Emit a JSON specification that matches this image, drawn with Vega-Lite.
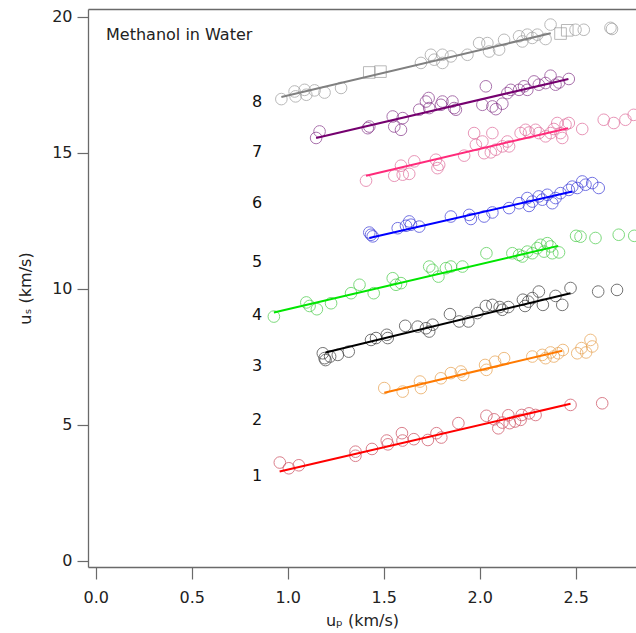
{
  "$schema": "https://vega.github.io/schema/vega-lite/v6.json",
  "width": 548,
  "height": 558,
  "autosize": {"type": "none"},
  "padding": {"left": 88, "top": 9, "right": 0, "bottom": 66},
  "config": {
    "view": {"stroke": null},
    "font": "DejaVu Sans",
    "axis": {
      "grid": false,
      "domainColor": "#6a6a6a",
      "domainWidth": 1.3,
      "tickColor": "#6a6a6a",
      "tickWidth": 1.2,
      "labelFont": "DejaVu Sans",
      "labelFontSize": 16,
      "labelColor": "#222222",
      "titleFont": "DejaVu Sans",
      "titleFontSize": 16,
      "titleFontWeight": "normal",
      "titleColor": "#222222"
    }
  },
  "datasets": {
    "pts": [
      {"s":"1","x":0.959,"y":3.61,"m":"circle"},{"s":"1","x":1.006,"y":3.40,"m":"circle"},{"s":"1","x":1.058,"y":3.51,"m":"circle"},{"s":"1","x":1.353,"y":4.01,"m":"circle"},{"s":"1","x":1.353,"y":3.86,"m":"circle"},{"s":"1","x":1.439,"y":4.11,"m":"circle"},{"s":"1","x":1.516,"y":4.42,"m":"circle"},{"s":"1","x":1.522,"y":4.28,"m":"circle"},{"s":"1","x":1.595,"y":4.69,"m":"circle"},{"s":"1","x":1.598,"y":4.42,"m":"circle"},{"s":"1","x":1.657,"y":4.47,"m":"circle"},{"s":"1","x":1.730,"y":4.44,"m":"circle"},{"s":"1","x":1.775,"y":4.69,"m":"circle"},{"s":"1","x":1.800,"y":4.53,"m":"circle"},{"s":"1","x":1.889,"y":5.06,"m":"circle"},{"s":"1","x":2.035,"y":5.33,"m":"circle"},{"s":"1","x":2.075,"y":5.20,"m":"circle"},{"s":"1","x":2.097,"y":4.87,"m":"circle"},{"s":"1","x":2.118,"y":5.08,"m":"circle"},{"s":"1","x":2.149,"y":5.35,"m":"circle"},{"s":"1","x":2.156,"y":5.06,"m":"circle"},{"s":"1","x":2.184,"y":5.12,"m":"circle"},{"s":"1","x":2.213,"y":5.18,"m":"circle"},{"s":"1","x":2.219,"y":5.36,"m":"circle"},{"s":"1","x":2.257,"y":5.42,"m":"circle"},{"s":"1","x":2.291,"y":5.36,"m":"circle"},{"s":"1","x":2.473,"y":5.73,"m":"circle"},{"s":"1","x":2.638,"y":5.79,"m":"circle"},
      {"s":"2","x":1.503,"y":6.35,"m":"circle"},{"s":"2","x":1.599,"y":6.22,"m":"circle"},{"s":"2","x":1.689,"y":6.59,"m":"circle"},{"s":"2","x":1.694,"y":6.35,"m":"circle"},{"s":"2","x":1.798,"y":6.71,"m":"circle"},{"s":"2","x":1.850,"y":6.90,"m":"circle"},{"s":"2","x":1.902,"y":6.96,"m":"circle"},{"s":"2","x":1.914,"y":6.83,"m":"circle"},{"s":"2","x":2.028,"y":7.20,"m":"circle"},{"s":"2","x":2.035,"y":7.02,"m":"circle"},{"s":"2","x":2.080,"y":7.32,"m":"circle"},{"s":"2","x":2.127,"y":7.45,"m":"circle"},{"s":"2","x":2.274,"y":7.51,"m":"circle"},{"s":"2","x":2.326,"y":7.57,"m":"circle"},{"s":"2","x":2.343,"y":7.45,"m":"circle"},{"s":"2","x":2.369,"y":7.66,"m":"circle"},{"s":"2","x":2.386,"y":7.51,"m":"circle"},{"s":"2","x":2.409,"y":7.63,"m":"circle"},{"s":"2","x":2.433,"y":7.75,"m":"circle"},{"s":"2","x":2.508,"y":7.63,"m":"circle"},{"s":"2","x":2.530,"y":7.82,"m":"circle"},{"s":"2","x":2.554,"y":7.66,"m":"circle"},{"s":"2","x":2.577,"y":8.12,"m":"circle"},{"s":"2","x":2.586,"y":7.88,"m":"circle"},
      {"s":"3","x":1.183,"y":7.63,"m":"circle"},{"s":"3","x":1.192,"y":7.45,"m":"circle"},{"s":"3","x":1.197,"y":7.38,"m":"circle"},{"s":"3","x":1.221,"y":7.51,"m":"circle"},{"s":"3","x":1.261,"y":7.57,"m":"circle"},{"s":"3","x":1.318,"y":7.69,"m":"circle"},{"s":"3","x":1.434,"y":8.12,"m":"circle"},{"s":"3","x":1.460,"y":8.19,"m":"circle"},{"s":"3","x":1.516,"y":8.31,"m":"circle"},{"s":"3","x":1.521,"y":8.19,"m":"circle"},{"s":"3","x":1.612,"y":8.64,"m":"circle"},{"s":"3","x":1.677,"y":8.61,"m":"circle"},{"s":"3","x":1.720,"y":8.55,"m":"circle"},{"s":"3","x":1.737,"y":8.43,"m":"circle"},{"s":"3","x":1.755,"y":8.68,"m":"circle"},{"s":"3","x":1.845,"y":9.07,"m":"circle"},{"s":"3","x":1.893,"y":8.80,"m":"circle"},{"s":"3","x":1.941,"y":8.80,"m":"circle"},{"s":"3","x":1.988,"y":9.11,"m":"circle"},{"s":"3","x":2.032,"y":9.37,"m":"circle"},{"s":"3","x":2.066,"y":9.41,"m":"circle"},{"s":"3","x":2.104,"y":9.33,"m":"circle"},{"s":"3","x":2.118,"y":9.23,"m":"circle"},{"s":"3","x":2.149,"y":9.33,"m":"circle"},{"s":"3","x":2.225,"y":9.60,"m":"circle"},{"s":"3","x":2.236,"y":9.37,"m":"circle"},{"s":"3","x":2.253,"y":9.53,"m":"circle"},{"s":"3","x":2.274,"y":9.66,"m":"circle"},{"s":"3","x":2.308,"y":9.90,"m":"circle"},{"s":"3","x":2.329,"y":9.41,"m":"circle"},{"s":"3","x":2.395,"y":9.74,"m":"circle"},{"s":"3","x":2.430,"y":9.41,"m":"circle"},{"s":"3","x":2.473,"y":10.03,"m":"circle"},{"s":"3","x":2.617,"y":9.90,"m":"circle"},{"s":"3","x":2.715,"y":9.96,"m":"circle"},
      {"s":"4","x":0.928,"y":8.98,"m":"circle"},{"s":"4","x":1.097,"y":9.50,"m":"circle"},{"s":"4","x":1.114,"y":9.37,"m":"circle"},{"s":"4","x":1.152,"y":9.25,"m":"circle"},{"s":"4","x":1.226,"y":9.47,"m":"circle"},{"s":"4","x":1.330,"y":9.84,"m":"circle"},{"s":"4","x":1.374,"y":10.15,"m":"circle"},{"s":"4","x":1.448,"y":9.84,"m":"circle"},{"s":"4","x":1.547,"y":10.39,"m":"circle"},{"s":"4","x":1.564,"y":10.15,"m":"circle"},{"s":"4","x":1.590,"y":10.21,"m":"circle"},{"s":"4","x":1.737,"y":10.82,"m":"circle"},{"s":"4","x":1.754,"y":10.70,"m":"circle"},{"s":"4","x":1.785,"y":10.45,"m":"circle"},{"s":"4","x":1.824,"y":10.76,"m":"circle"},{"s":"4","x":1.850,"y":10.82,"m":"circle"},{"s":"4","x":1.910,"y":10.82,"m":"circle"},{"s":"4","x":2.035,"y":11.31,"m":"circle"},{"s":"4","x":2.170,"y":11.31,"m":"circle"},{"s":"4","x":2.205,"y":11.25,"m":"circle"},{"s":"4","x":2.222,"y":11.19,"m":"circle"},{"s":"4","x":2.248,"y":11.37,"m":"circle"},{"s":"4","x":2.274,"y":11.31,"m":"circle"},{"s":"4","x":2.300,"y":11.50,"m":"circle"},{"s":"4","x":2.317,"y":11.62,"m":"circle"},{"s":"4","x":2.335,"y":11.37,"m":"circle"},{"s":"4","x":2.352,"y":11.68,"m":"circle"},{"s":"4","x":2.369,"y":11.56,"m":"circle"},{"s":"4","x":2.378,"y":11.31,"m":"circle"},{"s":"4","x":2.413,"y":11.34,"m":"circle"},{"s":"4","x":2.502,"y":11.95,"m":"circle"},{"s":"4","x":2.525,"y":11.92,"m":"circle"},{"s":"4","x":2.603,"y":11.87,"m":"circle"},{"s":"4","x":2.724,"y":11.99,"m":"circle"},{"s":"4","x":2.805,"y":11.95,"m":"circle"},
      {"s":"5","x":1.425,"y":12.07,"m":"circle"},{"s":"5","x":1.434,"y":11.99,"m":"circle"},{"s":"5","x":1.443,"y":11.93,"m":"circle"},{"s":"5","x":1.573,"y":12.23,"m":"circle"},{"s":"5","x":1.616,"y":12.32,"m":"circle"},{"s":"5","x":1.633,"y":12.48,"m":"circle"},{"s":"5","x":1.642,"y":12.36,"m":"circle"},{"s":"5","x":1.685,"y":12.29,"m":"circle"},{"s":"5","x":1.850,"y":12.66,"m":"circle"},{"s":"5","x":1.945,"y":12.72,"m":"circle"},{"s":"5","x":1.954,"y":12.57,"m":"circle"},{"s":"5","x":2.023,"y":12.66,"m":"circle"},{"s":"5","x":2.066,"y":12.81,"m":"circle"},{"s":"5","x":2.153,"y":12.97,"m":"circle"},{"s":"5","x":2.205,"y":13.15,"m":"circle"},{"s":"5","x":2.248,"y":13.34,"m":"circle"},{"s":"5","x":2.257,"y":13.05,"m":"circle"},{"s":"5","x":2.274,"y":13.21,"m":"circle"},{"s":"5","x":2.308,"y":13.40,"m":"circle"},{"s":"5","x":2.326,"y":13.28,"m":"circle"},{"s":"5","x":2.352,"y":13.46,"m":"circle"},{"s":"5","x":2.378,"y":13.15,"m":"circle"},{"s":"5","x":2.395,"y":13.34,"m":"circle"},{"s":"5","x":2.421,"y":13.52,"m":"circle"},{"s":"5","x":2.464,"y":13.64,"m":"circle"},{"s":"5","x":2.482,"y":13.76,"m":"circle"},{"s":"5","x":2.508,"y":13.71,"m":"circle"},{"s":"5","x":2.534,"y":13.95,"m":"circle"},{"s":"5","x":2.551,"y":13.83,"m":"circle"},{"s":"5","x":2.586,"y":13.89,"m":"circle"},{"s":"5","x":2.620,"y":13.71,"m":"circle"},
      {"s":"6","x":1.408,"y":13.98,"m":"circle"},{"s":"6","x":1.555,"y":14.16,"m":"circle"},{"s":"6","x":1.590,"y":14.53,"m":"circle"},{"s":"6","x":1.599,"y":14.20,"m":"circle"},{"s":"6","x":1.633,"y":14.23,"m":"circle"},{"s":"6","x":1.659,"y":14.69,"m":"circle"},{"s":"6","x":1.772,"y":14.75,"m":"circle"},{"s":"6","x":1.780,"y":14.44,"m":"circle"},{"s":"6","x":1.789,"y":14.56,"m":"circle"},{"s":"6","x":1.919,"y":14.90,"m":"circle"},{"s":"6","x":1.971,"y":15.73,"m":"circle"},{"s":"6","x":1.980,"y":15.30,"m":"circle"},{"s":"6","x":2.014,"y":15.42,"m":"circle"},{"s":"6","x":2.023,"y":14.99,"m":"circle"},{"s":"6","x":2.058,"y":15.02,"m":"circle"},{"s":"6","x":2.066,"y":15.73,"m":"circle"},{"s":"6","x":2.084,"y":15.12,"m":"circle"},{"s":"6","x":2.118,"y":15.24,"m":"circle"},{"s":"6","x":2.144,"y":15.42,"m":"circle"},{"s":"6","x":2.153,"y":15.24,"m":"circle"},{"s":"6","x":2.213,"y":15.73,"m":"circle"},{"s":"6","x":2.239,"y":15.85,"m":"circle"},{"s":"6","x":2.257,"y":15.75,"m":"circle"},{"s":"6","x":2.291,"y":15.85,"m":"circle"},{"s":"6","x":2.308,"y":15.73,"m":"circle"},{"s":"6","x":2.343,"y":15.61,"m":"circle"},{"s":"6","x":2.369,"y":15.73,"m":"circle"},{"s":"6","x":2.386,"y":15.88,"m":"circle"},{"s":"6","x":2.404,"y":16.10,"m":"circle"},{"s":"6","x":2.421,"y":15.73,"m":"circle"},{"s":"6","x":2.430,"y":15.55,"m":"circle"},{"s":"6","x":2.447,"y":16.04,"m":"circle"},{"s":"6","x":2.464,"y":16.10,"m":"circle"},{"s":"6","x":2.534,"y":15.88,"m":"circle"},{"s":"6","x":2.646,"y":16.22,"m":"circle"},{"s":"6","x":2.698,"y":16.10,"m":"circle"},{"s":"6","x":2.759,"y":16.22,"m":"circle"},{"s":"6","x":2.802,"y":16.40,"m":"circle"},
      {"s":"7","x":1.166,"y":15.79,"m":"circle"},{"s":"7","x":1.148,"y":15.55,"m":"circle"},{"s":"7","x":1.417,"y":15.91,"m":"circle"},{"s":"7","x":1.425,"y":15.97,"m":"circle"},{"s":"7","x":1.547,"y":16.34,"m":"circle"},{"s":"7","x":1.555,"y":15.97,"m":"circle"},{"s":"7","x":1.590,"y":15.85,"m":"circle"},{"s":"7","x":1.599,"y":16.28,"m":"circle"},{"s":"7","x":1.685,"y":16.59,"m":"circle"},{"s":"7","x":1.720,"y":16.89,"m":"circle"},{"s":"7","x":1.734,"y":17.02,"m":"circle"},{"s":"7","x":1.737,"y":16.65,"m":"circle"},{"s":"7","x":1.798,"y":16.77,"m":"circle"},{"s":"7","x":1.806,"y":16.89,"m":"circle"},{"s":"7","x":1.858,"y":16.89,"m":"circle"},{"s":"7","x":1.867,"y":16.65,"m":"circle"},{"s":"7","x":1.876,"y":16.59,"m":"circle"},{"s":"7","x":2.014,"y":16.77,"m":"circle"},{"s":"7","x":2.032,"y":17.45,"m":"circle"},{"s":"7","x":2.066,"y":16.71,"m":"circle"},{"s":"7","x":2.084,"y":16.61,"m":"circle"},{"s":"7","x":2.118,"y":16.81,"m":"circle"},{"s":"7","x":2.144,"y":17.20,"m":"circle"},{"s":"7","x":2.162,"y":17.32,"m":"circle"},{"s":"7","x":2.205,"y":17.32,"m":"circle"},{"s":"7","x":2.231,"y":17.45,"m":"circle"},{"s":"7","x":2.248,"y":17.32,"m":"circle"},{"s":"7","x":2.283,"y":17.63,"m":"circle"},{"s":"7","x":2.308,"y":17.51,"m":"circle"},{"s":"7","x":2.343,"y":17.57,"m":"circle"},{"s":"7","x":2.369,"y":17.84,"m":"circle"},{"s":"7","x":2.395,"y":17.51,"m":"circle"},{"s":"7","x":2.413,"y":17.59,"m":"circle"},{"s":"7","x":2.464,"y":17.72,"m":"circle"},
      {"s":"8","x":0.967,"y":16.98,"m":"circle"},{"s":"8","x":1.036,"y":17.26,"m":"circle"},{"s":"8","x":1.041,"y":17.08,"m":"circle"},{"s":"8","x":1.088,"y":17.32,"m":"circle"},{"s":"8","x":1.097,"y":17.14,"m":"circle"},{"s":"8","x":1.140,"y":17.30,"m":"circle"},{"s":"8","x":1.192,"y":17.22,"m":"circle"},{"s":"8","x":1.278,"y":17.39,"m":"circle"},{"s":"8","x":1.425,"y":17.96,"m":"square"},{"s":"8","x":1.483,"y":17.99,"m":"square"},{"s":"8","x":1.694,"y":18.31,"m":"circle"},{"s":"8","x":1.746,"y":18.61,"m":"circle"},{"s":"8","x":1.763,"y":18.43,"m":"circle"},{"s":"8","x":1.806,"y":18.61,"m":"circle"},{"s":"8","x":1.806,"y":18.31,"m":"circle"},{"s":"8","x":1.850,"y":18.55,"m":"circle"},{"s":"8","x":1.936,"y":18.61,"m":"circle"},{"s":"8","x":1.997,"y":19.04,"m":"circle"},{"s":"8","x":2.040,"y":19.04,"m":"circle"},{"s":"8","x":2.049,"y":18.73,"m":"circle"},{"s":"8","x":2.101,"y":18.80,"m":"circle"},{"s":"8","x":2.127,"y":19.16,"m":"circle"},{"s":"8","x":2.205,"y":19.29,"m":"circle"},{"s":"8","x":2.222,"y":19.10,"m":"circle"},{"s":"8","x":2.248,"y":19.35,"m":"circle"},{"s":"8","x":2.274,"y":19.23,"m":"circle"},{"s":"8","x":2.300,"y":19.35,"m":"circle"},{"s":"8","x":2.343,"y":19.19,"m":"circle"},{"s":"8","x":2.369,"y":19.72,"m":"circle"},{"s":"8","x":2.421,"y":19.39,"m":"square"},{"s":"8","x":2.456,"y":19.51,"m":"square"},{"s":"8","x":2.499,"y":19.53,"m":"circle"},{"s":"8","x":2.542,"y":19.53,"m":"circle"},{"s":"8","x":2.681,"y":19.60,"m":"circle"},{"s":"8","x":2.689,"y":19.56,"m":"circle"}
    ],
    "fits": [
      {"s":"1","x":0.958,"y":3.28},{"s":"1","x":2.473,"y":5.77},
      {"s":"2","x":1.503,"y":6.18},{"s":"2","x":2.430,"y":7.72},
      {"s":"3","x":1.197,"y":7.66},{"s":"3","x":2.473,"y":9.84},
      {"s":"4","x":0.928,"y":9.13},{"s":"4","x":2.409,"y":11.58},
      {"s":"5","x":1.425,"y":11.87},{"s":"5","x":2.482,"y":13.58},
      {"s":"6","x":1.408,"y":14.16},{"s":"6","x":2.460,"y":15.91},
      {"s":"7","x":1.148,"y":15.55},{"s":"7","x":2.462,"y":17.72},
      {"s":"8","x":0.967,"y":17.06},{"s":"8","x":2.370,"y":19.40}
    ],
    "labels": [
      {"s":"1","x":0.84,"y":3.13},{"s":"2","x":0.84,"y":5.18},{"s":"3","x":0.84,"y":7.17},{"s":"4","x":0.84,"y":9.04},
      {"s":"5","x":0.84,"y":11.0},{"s":"6","x":0.84,"y":13.15},{"s":"7","x":0.84,"y":15.05},{"s":"8","x":0.84,"y":16.89}
    ],
    "note": [{"t":"Methanol in Water","x":0.054,"y":19.35}]
  },
  "layer": [
    {
      "data": {"name": "pts"},
      "mark": {"type": "point", "filled": false, "strokeWidth": 1, "size": 135, "clip": true},
      "encoding": {
        "x": {"field": "x", "type": "quantitative",
              "scale": {"domain": [-0.04, 2.814], "nice": false, "zero": false},
              "axis": {"orient": "bottom", "values": [0, 0.5, 1, 1.5, 2, 2.5], "format": ".1f", "tickSize": 12, "labelPadding": 10, "title": "uₚ (km/s)", "titlePadding": 7}},
        "y": {"field": "y", "type": "quantitative",
              "scale": {"domain": [-0.232, 20.294], "nice": false, "zero": false},
              "axis": {"orient": "left", "values": [0, 5, 10, 15, 20], "tickSize": 11, "labelPadding": 5, "title": "uₛ (km/s)", "titlePadding": 18}},
        "color": {"field": "s", "type": "nominal", "legend": null,
                  "scale": {"domain": ["1","2","3","4","5","6","7","8"],
                            "range": ["#cc4a5c", "#e8a04c", "#3a3a3a", "#48cc48", "#3a3ad8", "#e06a9a", "#86378a", "#9c9c9c"]}},
        "shape": {"field": "m", "type": "nominal", "legend": null,
                  "scale": {"domain": ["circle", "square"], "range": ["circle", "square"]}}
      }
    },
    {
      "data": {"name": "fits"},
      "mark": {"type": "line", "strokeWidth": 2},
      "encoding": {
        "x": {"field": "x", "type": "quantitative",
              "scale": {"domain": [-0.04, 2.814], "nice": false, "zero": false},
              "axis": {"orient": "top", "labels": false, "ticks": false, "title": null, "domain": true}},
        "y": {"field": "y", "type": "quantitative",
              "scale": {"domain": [-0.232, 20.294], "nice": false, "zero": false}, "axis": null},
        "color": {"field": "s", "type": "nominal", "legend": null,
                  "scale": {"domain": ["1","2","3","4","5","6","7","8"],
                            "range": ["#ff0000", "#ff7a00", "#000000", "#00e600", "#0000ff", "#ff2a7a", "#75006f", "#808080"]}}
      }
    },
    {
      "data": {"name": "labels"},
      "mark": {"type": "text", "fontSize": 16, "color": "#111111", "align": "center", "baseline": "middle"},
      "encoding": {
        "x": {"field": "x", "type": "quantitative", "scale": {"domain": [-0.04, 2.814], "nice": false, "zero": false}, "axis": null},
        "y": {"field": "y", "type": "quantitative", "scale": {"domain": [-0.232, 20.294], "nice": false, "zero": false}, "axis": null},
        "text": {"field": "s"}
      }
    },
    {
      "data": {"name": "note"},
      "mark": {"type": "text", "fontSize": 16, "color": "#222222", "align": "left", "baseline": "middle"},
      "encoding": {
        "x": {"field": "x", "type": "quantitative", "scale": {"domain": [-0.04, 2.814], "nice": false, "zero": false}, "axis": null},
        "y": {"field": "y", "type": "quantitative", "scale": {"domain": [-0.232, 20.294], "nice": false, "zero": false}, "axis": null},
        "text": {"field": "t"}
      }
    }
  ],
  "resolve": {"scale": {"color": "independent"}, "axis": {"x": "independent", "y": "independent"}}
}
